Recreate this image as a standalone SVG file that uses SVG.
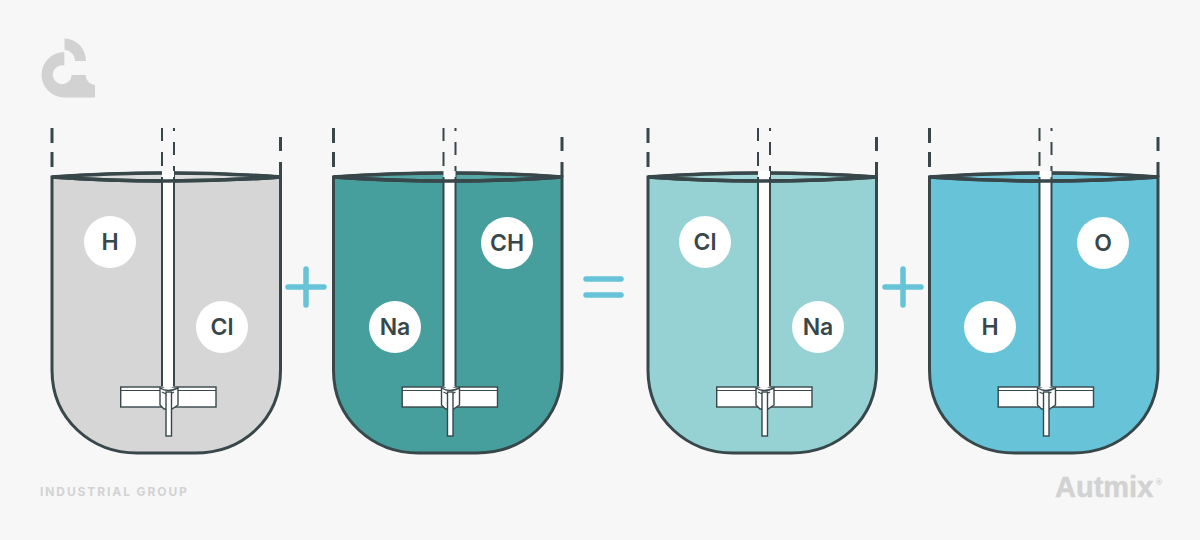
<svg xmlns="http://www.w3.org/2000/svg" width="1200" height="540" viewBox="0 0 1200 540">
<style>
.d{fill:none;stroke:#37474a;stroke-width:3}
.r{fill:none;stroke:#37474a;stroke-width:3.500}
.s{fill:none;stroke:#37474a;stroke-width:2}
.t{stroke:#37474a;stroke-width:3}
.u{stroke:#37474a;stroke-width:3.500}
.i{fill:#fff;stroke:#37474a;stroke-width:1.4}
.c{fill:#fff}
.l{font-family:"Inter","Liberation Sans",sans-serif;font-weight:600;font-size:23px;fill:#37474a;text-anchor:middle}
.o{fill:none;stroke:#67c3d8;stroke-width:5.5;stroke-linecap:round}
.g{fill:#d2d2d2}
</style>
<defs>
<g id="top">
<path d="M0,128V143M0,152V167M228.500,137V151M228.500,162V177" class="d"/>
<path d="M110,128V141M110,152V166M122,128V131M122,142V155M122,166V177" class="s"/>
</g>
<g id="mix">
<rect x="68.700" y="387" width="95.300" height="20" class="i"/>
<path d="M68.700,390.500H164" fill="none" stroke="#37474a" stroke-width="1.200"/>
<path d="M110,171H122V386Q116,391 110,386Z" class="c"/>
<path d="M110,177V386M122,177V386" class="s"/>
<path d="M108,388Q116,393 126,388V405L120,409H112L108,405Z" class="i"/>
<path d="M110,392Q116,396 122,392" fill="none" stroke="#37474a" stroke-width="1.200"/>
<rect x="114" y="392" width="5.500" height="44" class="i"/>
<path d="M0,177Q114.500,185 228.500,177" class="r"/>
</g>
</defs>
<rect width="1200" height="540" fill="#f7f7f7"/>
<g id="logo" class="g">
<path d="M64.500,38.500A21.500,22.500 0 0 1 86,61H75A10.700,11 0 0 0 64.500,50Z"/>
<path d="M64.300,52A22.750,22.750 0 0 0 64.300,97.500H95V85A10,10 0 0 1 85.700,75H71.700A9.500,9.500 0 1 1 64.300,65.500Z"/>
</g>
<g id="connectors">
<path class="o" d="M288,287H324M306,269V305"/>
<path class="o" d="M586,279H621M586,295H621"/>
<path class="o" d="M885,287H921M903,269V305"/>
</g>
<g id="tank1" transform="translate(52,0)">
<path d="M0,177Q114.500,169 228.500,177V370C228.500,420 190,453 143,453H85C40,453 0,420 0,370Z" fill="#d6d6d6" class="t"/>
<path d="M0,177Q114.500,169 228.500,177Q114.500,185 0,177Z" fill="#dedede" class="u"/>
<use href="#top"/><use href="#mix"/>
<circle cx="58" cy="242" r="26" class="c"/><text x="58" y="250" class="l">H</text>
<circle cx="170" cy="327" r="26" class="c"/><text x="170" y="335" class="l">Cl</text>
</g>
<g id="tank2" transform="translate(333.500,0)">
<path d="M0,177Q114.500,169 228.500,177V370C228.500,420 190,453 143,453H85C40,453 0,420 0,370Z" fill="#479f9d" class="t"/>
<path d="M0,177Q114.500,169 228.500,177Q114.500,185 0,177Z" fill="#55a8a6" class="u"/>
<use href="#top"/><use href="#mix"/>
<circle cx="173.500" cy="243" r="26" class="c"/><text x="173.500" y="251" class="l">CH</text>
<circle cx="61.500" cy="327" r="26" class="c"/><text x="61.500" y="335" class="l">Na</text>
</g>
<g id="tank3" transform="translate(648,0)">
<path d="M0,177Q114.500,169 228.500,177V370C228.500,420 190,453 143,453H85C40,453 0,420 0,370Z" fill="#96d2d3" class="t"/>
<path d="M0,177Q114.500,169 228.500,177Q114.500,185 0,177Z" fill="#a5d9da" class="u"/>
<use href="#top"/><use href="#mix"/>
<circle cx="57" cy="242" r="26" class="c"/><text x="57" y="250" class="l">Cl</text>
<circle cx="170" cy="327" r="26" class="c"/><text x="170" y="335" class="l">Na</text>
</g>
<g id="tank4" transform="translate(929.500,0)">
<path d="M0,177Q114.500,169 228.500,177V370C228.500,420 190,453 143,453H85C40,453 0,420 0,370Z" fill="#67c3d8" class="t"/>
<path d="M0,177Q114.500,169 228.500,177Q114.500,185 0,177Z" fill="#76cadd" class="u"/>
<use href="#top"/><use href="#mix"/>
<circle cx="173.500" cy="243" r="26" class="c"/><text x="173.500" y="251" class="l">O</text>
<circle cx="60.500" cy="327" r="26" class="c"/><text x="60.500" y="335" class="l">H</text>
</g>
<text x="40" y="496" font-family="Inter,'Liberation Sans',sans-serif" font-weight="700" font-size="12" letter-spacing="1.900" fill="#d2d2d2">INDUSTRIAL GROUP</text>
<text x="1055" y="497" font-family="'Liberation Sans',sans-serif" font-weight="700" font-size="29" stroke="#d2d2d2" stroke-width=".5" fill="#d2d2d2">Autmix</text>
<text x="1155" y="485" font-family="'DejaVu Sans',sans-serif" font-weight="700" font-size="8" fill="#d2d2d2">®</text>
</svg>
